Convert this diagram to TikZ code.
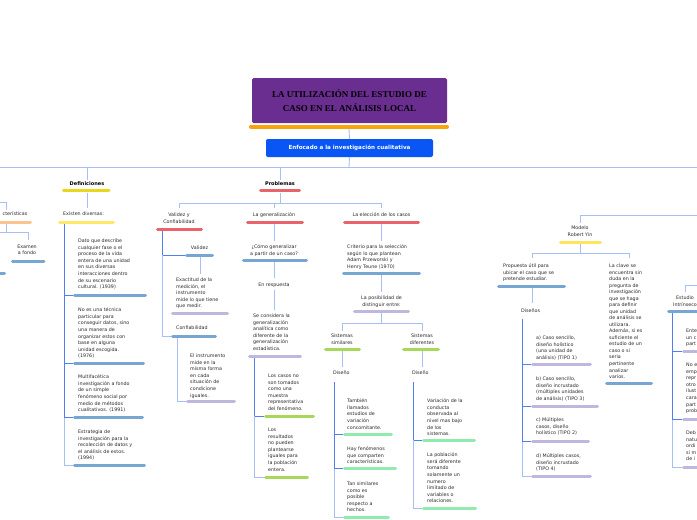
\documentclass[tikz,border=0pt]{standalone}
\usepackage{fontspec}
\setmainfont{DejaVu Sans}
\newfontfamily\titlefont{Liberation Serif}
\definecolor{tx}{HTML}{2B2B2B}
\definecolor{cpurple}{HTML}{6A2D90}
\definecolor{corange}{HTML}{F7A30C}
\definecolor{cbluebox}{HTML}{0A56F5}
\definecolor{clight}{HTML}{A7BFF4}
\definecolor{cdark}{HTML}{5080F0}
\definecolor{cyel}{HTML}{EAD61C}
\definecolor{cyel2}{HTML}{FCE96A}
\definecolor{cyel3}{HTML}{FFE45C}
\definecolor{cred}{HTML}{E9636B}
\definecolor{cblue}{HTML}{78A6D3}
\definecolor{clav}{HTML}{C0B7DF}
\definecolor{cgreen}{HTML}{A8D85A}
\definecolor{cmint}{HTML}{92EBAE}
\definecolor{cora}{HTML}{FBC48A}
\tikzset{
  t/.style={font=\fontsize{4.8}{6.6}\selectfont, text=tx, inner sep=0pt, align=left, anchor=north west},
  tc/.style={t, align=center, anchor=north},
  tb/.style={font=\fontsize{5}{6.6}\selectfont\bfseries, text=black, inner sep=0pt, anchor=center},
  ub/.style={line width=3pt, line cap=round, draw=#1},
  conn/.style={draw=clight, line width=0.9pt},
  dconn/.style={draw=cdark, line width=0.9pt},
}
\begin{document}
\begin{tikzpicture}[x=1pt,y=-1pt]
\useasboundingbox (0,0) rectangle (697,520);
\clip (0,0) rectangle (697,520);
\fill[white] (0,0) rectangle (697,520);

% ---------- title ----------
\node[fill=cpurple, rounded corners=1.5pt, minimum width=195pt, minimum height=45pt, inner sep=0pt,
      font=\titlefont\bfseries\fontsize{9}{14}\selectfont, text=black, align=center] (title) at (349.5,100.5)
  {LA UTILIZACIÓN DEL ESTUDIO DE\\CASO EN EL ANÁLISIS LOCAL};
\draw[ub=corange, line width=4pt] (251,126.5) -- (447,126.5);
\node[fill=cbluebox, rounded corners=2pt, minimum width=167pt, minimum height=18pt, inner sep=0pt,
      font=\fontsize{5.6}{7}\selectfont\bfseries, text=white] (focus) at (349.5,148) {Enfocado a la investigación cualitativa};
\coordinate (hub) at (349,167);
\draw[conn] (349,128.5) -- (focus.north);
\draw[conn] (focus.south) -- (hub);
\draw[conn] (0,167) -- (697,167);

% ---------- left edge: características ----------
\node[t, anchor=north east] (carac) at (27.5,211.5) {cterísticas};
\draw[ub=cora] (-5,222) -- (30.5,222);
\draw[conn] (0,202) -- (6,202) -- (6,210);
\draw[conn] (6,224) -- (6,232);
\draw[conn] (0,232) -- (28,232) -- (28,240);
\node[tc] (examen) at (27,244.5) {Examen\\a fondo};
\draw[ub=cblue] (12.5,261) -- (44,261);
\draw[ub=cblue] (-5,273) -- (4.5,273);

% ---------- Definiciones ----------
\node[tb] (defin) at (87,184) {Definiciones};
\draw[ub=cyel] (63.5,190.5) -- (109,190.5);
\draw[conn] (87,167) -- (87,180);
\draw[conn] (87,193) -- (87,208);
\node[t] (exist) at (63,211.7) {Existen diversas:};
\draw[ub=cyel2] (59.5,222) -- (113.5,222);
\draw[dconn] (64,224) -- (64,417);
\draw[conn] (64,417) -- (64,465) -- (73,465);
\foreach \y in {295,363,417} \draw[dconn] (64,\y) -- (73,\y);
\node[t] (d1) at (78,238.7) {Dato que describe\\cualquier fase o el\\proceso de la vida\\entera de una unidad\\en sus diversas\\interacciones dentro\\de su escenario\\cultural. (1939)};
\draw[ub=cblue] (74.5,295) -- (145.5,295);
\node[t] (d2) at (78,307.7) {No es una técnica\\particular para\\conseguir datos, sino\\una manera de\\organizar estos con\\base en alguna\\unidad escogida.\\(1976)};
\draw[ub=cblue] (74.5,363) -- (143.5,363);
\node[t] (d3) at (78,374.7) {Multifacética\\investigación a fondo\\de un simple\\fenómeno social por\\medio de métodos\\cualitativos. (1991)};
\draw[ub=cblue] (74.5,417) -- (142.5,417);
\node[t] (d4) at (78,429.7) {Estrategia de\\investigación para la\\recolección de datos y\\el análisis de estos.\\(1994)};
\draw[ub=cblue] (74.5,465) -- (144.5,465);

% ---------- Problemas ----------
\node[tb] (probl) at (280,184) {Problemas};
\draw[ub=cred] (260.5,190.5) -- (299.5,190.5);
\draw[conn] (280,167) -- (280,180);
\draw[conn] (280,193) -- (280,203);
\draw[conn] (179,203) -- (381,203);
\draw[conn] (179,203) -- (179,208);
\draw[conn] (274,203) -- (274,208);
\draw[conn] (381,203) -- (381,208);

% Validez y Confiabilidad
\node[tc] (vyc) at (179,212.7) {Validez y\\Confiabilidad};
\draw[ub=cred] (157.5,229) -- (201.5,229);
\draw[dconn] (162,231) -- (162,255) -- (185,255);
\draw[conn] (162,255) -- (162,336) -- (171,336);
\node[tc] (valid) at (199.5,245.7) {Validez};
\draw[ub=cblue] (186.5,255) -- (212.5,255);
\draw[conn] (200,257) -- (200,274);
\node[t] (exact) at (176,277.7) {Exactitud de la\\medición, el\\instrumento\\mide lo que tiene\\que medir.};
\draw[ub=clav] (172.5,313) -- (227.5,313);
\node[t] (confi) at (176,325.7) {Confiabilidad};
\draw[ub=cblue] (172.5,336) -- (215.5,336);
\draw[conn] (177,338) -- (177,401) -- (186,401);
\node[t] (instr) at (190,353.7) {El instrumento\\mide en la\\misma forma\\en cada\\situación de\\condicione\\iguales.};
\draw[ub=clav] (187.5,401) -- (234.5,401);

% La generalización
\node[tc] (gener) at (274,212.7) {La generalización};
\draw[ub=cred] (247.5,222) -- (302.5,222);
\draw[conn] (274,224) -- (274,241);
\node[tc] (como) at (274,244.7) {¿Cómo generalizar\\a partir de un caso?};
\draw[ub=cblue] (243.5,260) -- (306.5,260);
\draw[conn] (274,262) -- (274,278);
\node[tc] (resp) at (274,282.7) {En respuesta};
\draw[conn] (274,290) -- (274,310);
\node[t] (secons) at (253,313.7) {Se considera la\\generalización\\analítica como\\diferente de la\\generalización\\estadística.};
\draw[ub=clav] (249.5,356) -- (300.5,356);
\draw[dconn] (254,358) -- (254,416) -- (264,416);
\draw[conn] (254,416) -- (254,477) -- (264,477);
\node[t] (casos) at (268,373.7) {Los casos no\\son tomados\\como una\\muestra\\representativa\\del fenómeno.};
\draw[ub=cgreen] (265.5,416) -- (313.5,416);
\node[t] (result) at (268,427.7) {Los\\resultados\\no pueden\\plantearse\\iguales para\\la población\\entera.};
\draw[ub=cgreen] (265.5,477) -- (307.5,477);

% La elección de los casos
\node[tc] (elecc) at (381.5,212.7) {La elección de los casos};
\draw[ub=cred] (344.5,222) -- (418.5,222);
\draw[conn] (381,224) -- (381,241);
\node[t] (crit) at (347,244.7) {Criterio para la selección\\según lo que plantean\\Adam Przeworski y\\Henry Teune (1970)};
\draw[ub=cblue] (343.5,273) -- (419.5,273);
\draw[conn] (381,275) -- (381,292);
\node[tc] (posib) at (381.5,295.7) {La posibilidad de\\distinguir entre:};
\draw[ub=clav] (354.5,311) -- (408.5,311);
\draw[conn] (381,313) -- (381,323);
\draw[conn] (342,331) -- (342,323) -- (422,323) -- (422,331);
\node[tc] (simil) at (342,333.7) {Sistemas\\similares};
\draw[ub=cgreen] (325.5,349) -- (359.5,349);
\node[tc] (difer) at (422,333.7) {Sistemas\\diferentes};
\draw[ub=cgreen] (403.5,349) -- (438.5,349);
\draw[conn] (342,351) -- (342,367);
\draw[conn] (422,351) -- (422,367);
\node[t] (dis1) at (333,370.7) {Diseño};
\node[t] (dis2) at (412,370.7) {Diseño};
\draw[dconn] (334,382) -- (334,468);
\draw[conn] (334,468) -- (334,517) -- (343,517);
\foreach \y in {434,468} \draw[dconn] (334,\y) -- (343,\y);
\node[t] (s1) at (347,398.7) {También\\llamados\\estudios de\\variación\\concomitante.};
\draw[ub=cmint] (344.5,434) -- (391.5,434);
\node[t] (s2) at (347,446.7) {Hay fenómenos\\que comparten\\características.};
\draw[ub=cmint] (344.5,468) -- (395.5,468);
\node[t] (s3) at (347,481.7) {Tan similares\\como es\\posible\\respecto a\\hechos.};
\draw[ub=cmint] (344.5,517) -- (388.5,517);
\draw[dconn] (413,382) -- (413,440) -- (422,440);
\draw[conn] (413,440) -- (413,508) -- (422,508);
\node[t] (f1) at (427,398.7) {Variación de la\\conducta\\observada al\\nivel mas bajo\\de los\\sistemas.};
\draw[ub=cmint] (423.5,440) -- (474.5,440);
\node[t] (f2) at (427,452.7) {La población\\será diferente\\tomando\\solamente un\\numero\\limitado de\\variables o\\relaciones.};
\draw[ub=cmint] (423.5,508) -- (475.5,508);

% ---------- Modelo Robert Yin ----------
\draw[conn] (580,215) -- (697,215);
\draw[conn] (580,215) -- (580,223);
\node[tc] (yin) at (580,225.7) {Modelo\\Robert Yin};
\draw[ub=cyel3] (560.5,242) -- (600.5,242);
\draw[conn] (580,244) -- (580,253);
\draw[conn] (532,258) -- (532,253) -- (629,253) -- (629,258);
\node[t] (prop) at (503,263.7) {Propuesta útil para\\ubicar el caso que se\\pretende estudiar.};
\draw[ub=cblue] (498.5,286) -- (564.5,286);
\draw[conn] (532,288) -- (532,303);
\node[t] (diss) at (521,308.7) {Diseños};
\draw[dconn] (522,319) -- (522,441);
\draw[conn] (522,441) -- (522,476) -- (531,476);
\foreach \y in {364,406,441} \draw[dconn] (522,\y) -- (531,\y);
\node[t] (ya) at (536,335.7) {a) Caso sencillo,\\diseño holístico\\(una unidad de\\análisis) (TIPO 1)};
\draw[ub=clav] (532.5,364) -- (590.5,364);
\node[t] (yb) at (536,376.7) {b) Caso sencillo,\\diseño incrustado\\(múltiples unidades\\de análisis) (TIPO 3)};
\draw[ub=clav] (532.5,406) -- (597.5,406);
\node[t] (yc) at (536,417.7) {c) Múltiples\\casos, diseño\\holístico (TIPO 2)};
\draw[ub=clav] (532.5,441) -- (588.5,441);
\node[t] (yd) at (536,453.7) {d) Múltiples casos,\\diseño incrustado\\(TIPO 4)};
\draw[ub=clav] (532.5,476) -- (590.5,476);
\node[t, font=\fontsize{4.8}{6.53}\selectfont] (clave) at (609,263.7) {La clave se\\encuentra sin\\duda en la\\pregunta de\\investigación\\que se haga\\para definir\\que unidad\\de análisis se\\utilizara.\\Además, si es\\suficiente el\\estudio de un\\caso o si\\seria\\pertinente\\analizar\\varios.};
\draw[ub=cblue] (606.5,383) -- (651.5,383);

% ---------- Estudio Intrínseco ----------
\draw[conn] (685,285) -- (697,285);
\draw[conn] (685,285) -- (685,292);
\node[tc] (intr) at (685,295.7) {Estudio\\Intrínseco};
\draw[ub=cblue] (668.5,311) -- (702,311);
\draw[dconn] (672,313) -- (672,419);
\draw[conn] (672,419) -- (672,467) -- (682,467);
\foreach \y in {351,419} \draw[dconn] (672,\y) -- (682,\y);
\node[t] (i1) at (686,328.7) {Ente\\un c\\part};
\draw[ub=clav] (683.5,351) -- (702,351);
\node[t] (i2) at (686,362.7) {No e\\emp\\repr\\otro\\ilust\\cara\\part\\prob};
\draw[ub=clav] (683.5,419) -- (702,419);
\node[t] (i3) at (686,430.7) {Deb\\natu\\ordi\\si m\\de i};
\draw[ub=clav] (683.5,467) -- (702,467);
\end{tikzpicture}
\end{document}
